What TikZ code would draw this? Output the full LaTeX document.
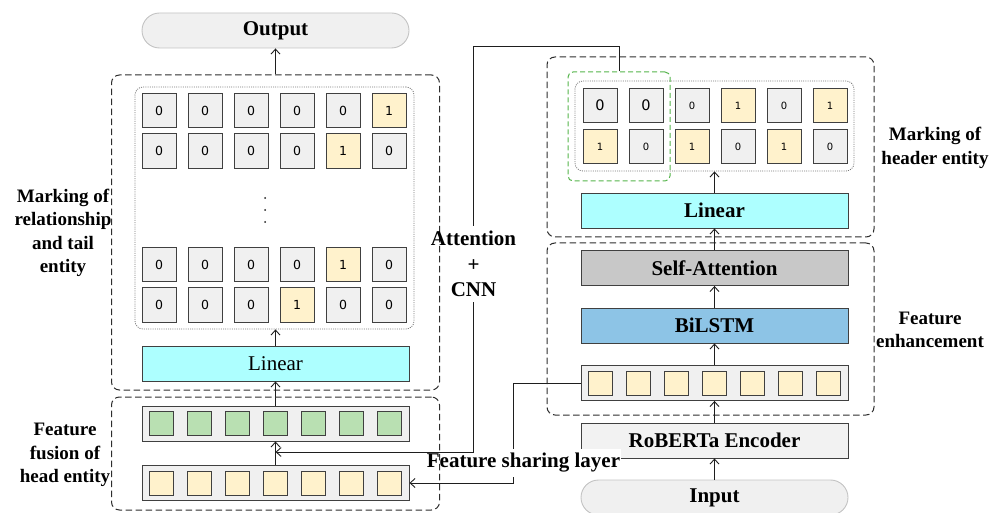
\documentclass[tikz,border=0pt]{standalone}
\usepackage{fontspec}
\setmainfont{Liberation Serif}
\newfontfamily\cellfont{DejaVu Sans}
\usetikzlibrary{arrows.meta}
\definecolor{cellg}{RGB}{240,240,240}
\definecolor{celld}{RGB}{64,64,64}
\definecolor{ylw}{RGB}{255,242,204}
\definecolor{grn}{RGB}{185,224,178}
\definecolor{cyanl}{RGB}{173,255,255}
\definecolor{sagray}{RGB}{200,200,200}
\definecolor{lstm}{RGB}{141,196,230}
\definecolor{robg}{RGB}{242,242,242}
\definecolor{ioedge}{RGB}{195,195,195}
\definecolor{dashc}{RGB}{45,45,45}
\definecolor{dotc}{RGB}{120,120,120}
\definecolor{gdash}{RGB}{85,180,75}
\definecolor{linec}{RGB}{30,30,30}
\begin{document}
\begin{tikzpicture}[x=1pt,y=-1pt,
  cellbox/.style={draw=celld, line width=0.9pt, fill=cellg, minimum width=34pt, minimum height=34.5pt, inner sep=0pt, font=\cellfont\fontsize{12.5}{14}\selectfont},
  ycellbox/.style={cellbox, fill=ylw},
  barbox/.style={draw=celld, line width=0.9pt, minimum width=267pt, minimum height=35pt, inner sep=0pt},
  sq/.style={draw=celld, line width=0.9pt, minimum size=24pt, inner sep=0pt},
  lab/.style={font=\bfseries\fontsize{19}{23.3}\selectfont, align=center, inner sep=0pt},
  bigt/.style={font=\bfseries\fontsize{21}{25.5}\selectfont},
  dbox/.style={draw=dashc, dash pattern=on 6.5pt off 3.5pt, rounded corners=8pt, line width=1pt, inner sep=0pt},
  dotbox/.style={draw=dotc, dash pattern=on 1pt off 1.2pt, rounded corners=8pt, line width=0.8pt, inner sep=0pt},
  iobox/.style={draw=ioedge, fill=cellg, line width=0.9pt, rounded corners=17.5pt, minimum width=267pt, minimum height=35pt, inner sep=0pt, font=\bfseries\fontsize{21}{25}\selectfont},
  ln/.style={draw=linec, line width=0.9pt},
  arr/.style={ln, -{Straight Barb[length=5pt,width=9pt,line width=0.9pt]}}
]
\useasboundingbox (0,0) rectangle (997,513);

% ---------------- left column ----------------
\node[iobox] (out) at (275.5,30.5) {Output};
\node[dbox, minimum width=328pt, minimum height=315pt] (LT) at (275.5,232.5) {};
\node[dotbox, minimum width=279pt, minimum height=242pt] (LDot) at (274.5,208) {};

% matrix rows
\foreach \v [count=\i] in {0,0,0,0,0,1}{
  \ifnum\v=1 \node[ycellbox] (a1\i) at ({113+46*\i},110.5) {\v};
  \else \node[cellbox] (a1\i) at ({113+46*\i},110.5) {\v}; \fi}
\foreach \v [count=\i] in {0,0,0,0,1,0}{
  \ifnum\v=1 \node[ycellbox] (a2\i) at ({113+46*\i},151) {\v};
  \else \node[cellbox] (a2\i) at ({113+46*\i},151) {\v}; \fi}
\foreach \v [count=\i] in {0,0,0,0,1,0}{
  \ifnum\v=1 \node[ycellbox] (a3\i) at ({113+46*\i},264.5) {\v};
  \else \node[cellbox] (a3\i) at ({113+46*\i},264.5) {\v}; \fi}
\foreach \v [count=\i] in {0,0,0,1,0,0}{
  \ifnum\v=1 \node[ycellbox] (a4\i) at ({113+46*\i},305) {\v};
  \else \node[cellbox] (a4\i) at ({113+46*\i},305) {\v}; \fi}
\foreach \yy [count=\k] in {198,210,222}{
  \fill[linec] (265,\yy) circle (1pt) coordinate (dot\k);}

\node[barbox, fill=cyanl, font=\fontsize{21}{25}\selectfont] (LLin) at (275.5,363.5) {Linear};

\node[barbox, fill=cellg] (GRow) at (275.5,423.5) {};
\foreach \i in {0,...,6}{
  \node[sq, fill=grn] (g\i) at ({275.5-114+38*\i},423.5) {};}
\node[barbox, fill=cellg] (LYRow) at (275.5,483) {};
\foreach \i in {0,...,6}{
  \node[sq, fill=ylw] (ly\i) at ({275.5-114+38*\i},483) {};}

% ---------------- right column ----------------
\node[dbox, minimum width=327pt, minimum height=180pt] (RT) at (710.5,147) {};
\node[dbox, minimum width=327pt, minimum height=172pt] (RB) at (710.5,329) {};
\node[dotbox, minimum width=279pt, minimum height=90pt] (RDot) at (714.5,126) {};

\foreach \v/\s [count=\i] in {0/b,0/b,0/s,1/s,0/s,1/s}{
  \ifnum\v=1 \node[ycellbox, font=\cellfont\fontsize{10}{12}\selectfont] (b1\i) at ({554+46*\i},105.5) {\v};
  \else
    \if b\s \node[cellbox, font=\cellfont\fontsize{14.5}{16}\selectfont] (b1\i) at ({554+46*\i},105.5) {\v};
    \else \node[cellbox, font=\cellfont\fontsize{10}{12}\selectfont] (b1\i) at ({554+46*\i},105.5) {\v}; \fi
  \fi}
\foreach \v [count=\i] in {1,0,1,0,1,0}{
  \ifnum\v=1 \node[ycellbox, font=\cellfont\fontsize{10}{12}\selectfont] (b2\i) at ({554+46*\i},146.5) {\v};
  \else \node[cellbox, font=\cellfont\fontsize{10}{12}\selectfont] (b2\i) at ({554+46*\i},146.5) {\v}; \fi}

\node[draw=gdash, dash pattern=on 5pt off 3pt, rounded corners=5pt, line width=1pt, minimum width=102pt, minimum height=109pt, inner sep=0pt] (GBox) at (619,126.5) {};

\node[barbox, fill=cyanl, font=\bfseries\fontsize{21}{25}\selectfont] (RLin) at (714.5,210.5) {Linear};
\node[barbox, fill=sagray, font=\bfseries\fontsize{21}{25}\selectfont] (SA) at (714.5,268) {Self-Attention};
\node[barbox, fill=lstm, font=\bfseries\fontsize{21}{25}\selectfont] (LSTM) at (714.5,325.5) {BiLSTM};
\node[barbox, fill=cellg] (RRow) at (714.5,383) {};
\foreach \i in {0,...,6}{
  \node[sq, fill=ylw] (ry\i) at ({714.5-114+38*\i},383) {};}
\node[barbox, fill=robg, font=\bfseries\fontsize{21}{25}\selectfont] (RoB) at (714.5,440.5) {RoBERTa Encoder};
\node[iobox] (inp) at (714.5,497.5) {Input};

% ---------------- connectors ----------------
\draw[arr] (LT.north) -- (LT.north |- out.south);
\draw[arr] (LLin.north) -- (LLin.north |- LDot.south);
\draw[arr] (GRow.north) -- (LLin.south);
\draw[arr] (LYRow.north) -- (GRow.south);

\draw[arr] (inp.north) -- (RoB.south);
\draw[arr] (RoB.north) -- (RRow.south);
\draw[arr] (RRow.north) -- (LSTM.south);
\draw[arr] (LSTM.north) -- (SA.south);
\draw[arr] (SA.north) -- (RLin.south);
\draw[arr] (RLin.north) -- (RLin.north |- RDot.south);

% feature sharing path
\coordinate (sc) at (513,383);
\draw[arr] (RRow.west) -- (sc) |- (LYRow.east);

\node[bigt, fill=white, inner xsep=1pt, inner ysep=4pt] (share) at (523.5,463) {Feature sharing layer};
\node[dbox, minimum width=328pt, minimum height=113pt] (LB) at (275.5,453.5) {};

% attention + CNN path
\node[bigt, align=center, inner sep=5pt] (attn) at (473.5,264) {Attention\\+\\CNN};
\coordinate (tc) at (473.5,46);
\coordinate (mid) at (275.5,452);
\draw[ln] (GBox.north) |- (tc) -- (attn.north);
\draw[arr] (attn.south) |- (mid);

% ---------------- side labels ----------------
\node[lab] (labA) at (63,233) {Marking of\\relationship\\and tail\\entity};
\node[lab] (labB) at (65,455) {Feature\\fusion of\\head entity};
\node[lab] (labC) at (935,148) {Marking of\\header entity};
\node[lab] (labD) at (930,330) {Feature\\enhancement};
\end{tikzpicture}
\end{document}
